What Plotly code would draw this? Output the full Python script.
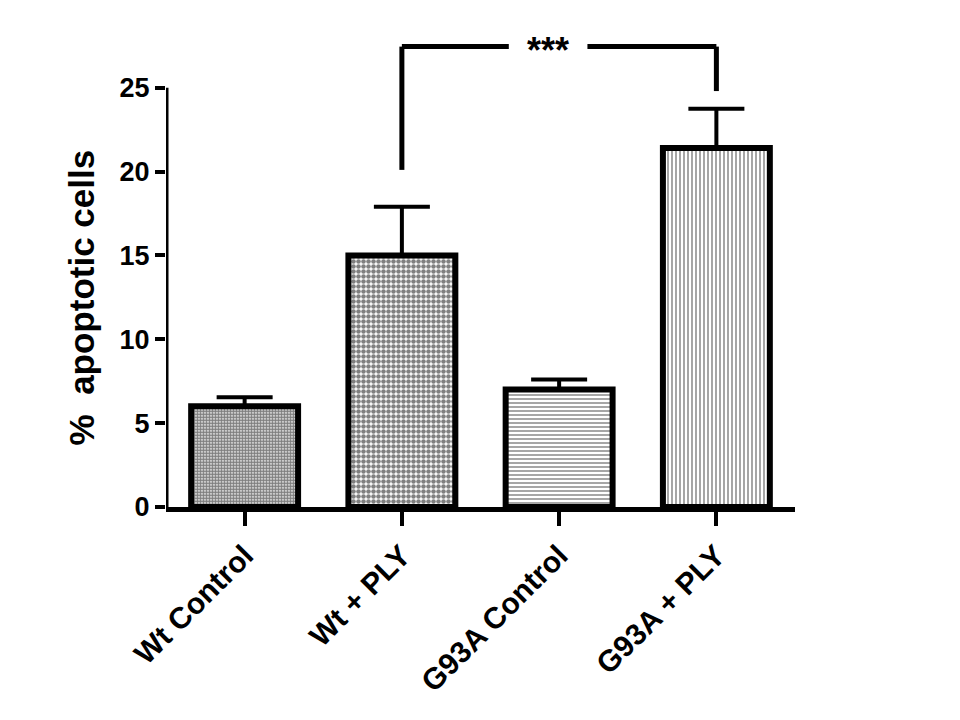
import plotly.graph_objects as go

# data
groups = ["Wt Control", "Wt + PLY", "G93A Control", "G93A + PLY"]
mean_pct = [6.0, 15.0, 7.0, 21.4]
sem_pct = [0.55, 2.9, 0.6, 2.35]
patterns = [".", ".", "-", "|"]
pattern_sizes = [3, 5, 4, 4]
pattern_solidity = [0.75, 0.65, 0.35, 0.35]

# significance bracket between Wt + PLY and G93A + PLY
sig_left, sig_right = 1, 3
sig_top = 27.45
sig_left_foot = 20.1
sig_right_foot = 24.8
sig_gap = (1.68, 2.18)
sig_label = "***"

font = dict(family="Arial, Liberation Sans", color="black", weight="bold")

fig = go.Figure()

fig.add_trace(go.Bar(
    x=list(range(len(groups))),
    y=mean_pct,
    width=0.68,
    marker=dict(
        color="white",
        line=dict(color="black", width=6),
        pattern=dict(shape=patterns, size=pattern_sizes, solidity=pattern_solidity,
                     fgcolor="black", bgcolor="white", fillmode="overlay"),
    ),
    error_y=dict(type="data", symmetric=False, array=sem_pct,
                 arrayminus=[0] * len(sem_pct),
                 color="black", thickness=4, width=28),
    showlegend=False,
))

# y axis line only up to 25
fig.add_shape(type="line", xref="x", yref="y", x0=-0.5, x1=-0.5, y0=0, y1=25,
              line=dict(color="black", width=5))

# bracket
line_style = dict(color="black", width=5)
fig.add_shape(type="line", x0=sig_left, x1=sig_left, y0=sig_left_foot, y1=sig_top, line=line_style)
fig.add_shape(type="line", x0=sig_left, x1=sig_gap[0], y0=sig_top, y1=sig_top, line=line_style)
fig.add_shape(type="line", x0=sig_gap[1], x1=sig_right, y0=sig_top, y1=sig_top, line=line_style)
fig.add_shape(type="line", x0=sig_right, x1=sig_right, y0=sig_right_foot, y1=sig_top, line=line_style)
fig.add_annotation(x=sum(sig_gap) / 2, y=sig_top, text=sig_label, showarrow=False,
                   font=dict(size=36, **font), yanchor="middle", yshift=-4)

# y title as annotation so it centres on the 0-25 part of the axis
fig.add_annotation(xref="paper", x=-0.135, y=12.5, text="%  apoptotic cells",
                   textangle=-90, showarrow=False, xanchor="center", yanchor="middle",
                   font=dict(size=35, **font))

# page body adds 8px, margins account for it
fig.update_layout(
    width=960, height=720,
    margin=dict(l=158, r=173, t=21, b=221),
    plot_bgcolor="white", paper_bgcolor="white",
    xaxis=dict(
        range=[-0.5, 3.5], automargin=False,
        tickvals=list(range(len(groups))), ticktext=groups,
        tickangle=-45, tickfont=dict(size=30, **font),
        showline=True, linecolor="black", linewidth=5,
        ticks="outside", ticklen=14, tickwidth=4, tickcolor="black",
        showgrid=False, zeroline=False,
    ),
    yaxis=dict(
        range=[0, 28.5], automargin=False,
        tickvals=[0, 5, 10, 15, 20, 25],
        tickfont=dict(size=27, **font),
        ticks="outside", ticklen=10, tickwidth=4, tickcolor="black",
        showline=False, showgrid=False, zeroline=False,
    ),
)

fig.write_html("out.html")
